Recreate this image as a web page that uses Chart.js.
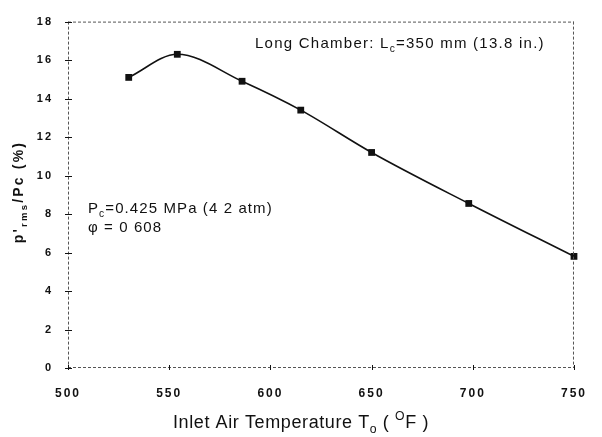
<!DOCTYPE html>
<html>
<head>
<meta charset="utf-8">
<script src="https://cdn.jsdelivr.net/npm/chart.js@4/dist/chart.umd.min.js"></script>
<style>
  html, body { margin: 0; padding: 0; background: #fff; }
  #wrap { width: 602px; height: 437px; position: relative; }
</style>
</head>
<body>
<div id="wrap"><canvas id="c" width="602" height="437"></canvas></div>
<script>
// Inlet air temperature (°F) and measured pressure oscillation p'rms/Pc (%)
const temperatures = [530, 554, 586, 615, 650, 698, 750];
const pressureRatio = [15.1, 16.3, 14.9, 13.4, 11.2, 8.55, 5.8];

// Axis ranges and tick steps
const xTicks = [500, 550, 600, 650, 700, 750];
const yTicks = [0, 2, 4, 6, 8, 10, 12, 14, 16, 18];

const FONT = '"Liberation Sans", Arial, Helvetica, sans-serif';

// Draws text pieces in sequence: each piece may be raised (sup) or lowered (sub)
function drawRich(ctx, parts, x, y, size, weight) {
  let cx = x;
  for (const p of parts) {
    const s = p.sub || p.sup ? size * 0.68 : size;
    ctx.font = `${weight} ${s}px ${FONT}`;
    const dy = p.sub ? size * 0.28 : p.sup ? -size * 0.42 : 0;
    ctx.fillText(p.t, cx, y + dy);
    cx += ctx.measureText(p.t).width;
  }
  return cx - x;
}
function measureRich(ctx, parts, size, weight) {
  let w = 0;
  for (const p of parts) {
    const s = p.sub || p.sup ? size * 0.68 : size;
    ctx.font = `${weight} ${s}px ${FONT}`;
    w += ctx.measureText(p.t).width;
  }
  return w;
}

const framePlugin = {
  id: 'frame',
  beforeDraw(chart) {
    chart.ctx.letterSpacing = '2px';
  },
  afterDraw(chart) {
    const { ctx, chartArea: a, scales } = chart;
    ctx.save();
    ctx.letterSpacing = '0px';
    // dotted frame
    ctx.strokeStyle = '#555';
    ctx.lineWidth = 1;
    ctx.setLineDash([3, 2]);
    ctx.beginPath();
    ctx.moveTo(a.left, a.top + 0.5); ctx.lineTo(a.right, a.top + 0.5);
    ctx.moveTo(a.right - 0.5, a.top); ctx.lineTo(a.right - 0.5, a.bottom);
    ctx.moveTo(a.left, a.bottom - 0.5); ctx.lineTo(a.right, a.bottom - 0.5);
    ctx.moveTo(a.left + 0.5, a.top); ctx.lineTo(a.left + 0.5, a.bottom);
    ctx.stroke();
    ctx.setLineDash([]);
    // small cross tick marks on both axes
    ctx.strokeStyle = '#111';
    ctx.beginPath();
    for (const v of yTicks) {
      const py = Math.round(scales.y.getPixelForValue(v)) + 0.5;
      ctx.moveTo(a.left - 3, py); ctx.lineTo(a.left + 4, py);
    }
    for (const v of xTicks) {
      const px = Math.round(scales.x.getPixelForValue(v)) + 0.5;
      ctx.moveTo(px, a.bottom - 3); ctx.lineTo(px, a.bottom + 2);
    }
    ctx.stroke();

    ctx.fillStyle = '#111';
    ctx.textBaseline = 'alphabetic';
    ctx.textAlign = 'left';
    // annotations
    ctx.letterSpacing = '1.25px';
    drawRich(ctx, [{ t: 'Long Chamber: L' }, { t: 'c', sub: true }, { t: '=350 mm (13.8 in.)' }], 255, 48, 15, 'normal');
    ctx.letterSpacing = '1.1px';
    drawRich(ctx, [{ t: 'P' }, { t: 'c', sub: true }, { t: '=0.425 MPa (4 2 atm)' }], 88, 213, 15, 'normal');
    drawRich(ctx, [{ t: '\u03C6 = 0 608' }], 88, 232, 15, 'normal');

    // x-axis title
    ctx.letterSpacing = '0.6px';
    const xParts = [{ t: 'Inlet Air Temperature T' }, { t: 'o', sub: true }, { t: ' ( ' }, { t: 'O', sup: true }, { t: 'F )' }];
    drawRich(ctx, xParts, 173, 428, 18, 'normal');

    // y-axis title (rotated)
    ctx.save();
    ctx.translate(23, 192);
    ctx.rotate(-Math.PI / 2);
    ctx.letterSpacing = '2.2px';
    const yParts = [{ t: "p'" }, { t: 'rms', sub: true }, { t: '/Pc (%)' }];
    const yw = measureRich(ctx, yParts, 14, 'bold');
    drawRich(ctx, yParts, -yw / 2, 0, 14, 'bold');
    ctx.restore();
    ctx.restore();
  }
};

new Chart(document.getElementById('c'), {
  type: 'scatter',
  data: {
    datasets: [{
      data: temperatures.map((t, i) => ({ x: t, y: pressureRatio[i] })),
      showLine: true,
      cubicInterpolationMode: 'monotone',
      clip: false,
      borderColor: '#111',
      borderWidth: 1.6,
      pointStyle: 'rect',
      pointRadius: 4.8,
      pointBackgroundColor: '#111',
      pointBorderColor: '#111',
      pointBorderWidth: 0
    }]
  },
  options: {
    responsive: false,
    animation: false,
    events: [],
    layout: { padding: { top: 16, right: 13, left: 0, bottom: 0 } },
    plugins: { legend: { display: false }, tooltip: { enabled: false } },
    scales: {
      x: {
        type: 'linear',
        min: 500, max: 750,
        afterBuildTicks(s) { s.ticks = xTicks.map(v => ({ value: v })); },
        afterFit(s) { s.height = 69; },
        grid: { display: false, drawTicks: false },
        border: { display: false },
        ticks: {
          padding: 18,
          color: '#111',
          font: { family: FONT, size: 12, weight: 'bold' }
        }
      },
      y: {
        type: 'linear',
        min: 0, max: 18,
        afterBuildTicks(s) { s.ticks = yTicks.map(v => ({ value: v })); },
        afterFit(s) { s.width = 68; },
        grid: { display: false, drawTicks: false },
        border: { display: false },
        ticks: {
          padding: 15,
          color: '#111',
          font: { family: FONT, size: 11, weight: 'bold' }
        }
      }
    }
  },
  plugins: [framePlugin]
});
</script>
</body>
</html>
